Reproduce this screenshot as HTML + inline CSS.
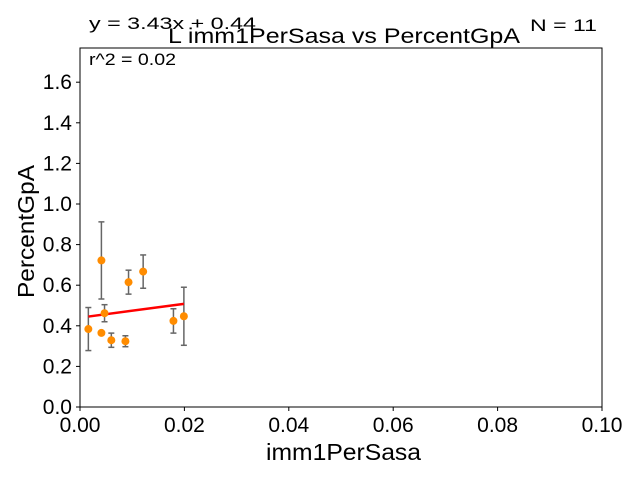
<!DOCTYPE html>
<html><head><meta charset="utf-8"><style>
body{margin:0;background:#fff}
svg{font-family:"Liberation Sans","DejaVu Sans",sans-serif}
</style></head><body>
<svg id="chart" width="640" height="480" viewBox="0 0 640 480" xmlns="http://www.w3.org/2000/svg">
<rect width="640" height="480" fill="#fff"/>
<g id="marks"></g>
<rect x="80" y="48" width="522" height="359" fill="none" stroke="#000" stroke-width="1"/>
<g id="axes"></g>
<text x="168" y="43" font-size="21" textLength="352" lengthAdjust="spacingAndGlyphs">L imm1PerSasa vs PercentGpA</text>
<text x="89" y="29" font-size="17" textLength="167" lengthAdjust="spacingAndGlyphs">y = 3.43x + 0.44</text>
<text x="89" y="65" font-size="17" textLength="87" lengthAdjust="spacingAndGlyphs">r^2 = 0.02</text>
<text x="530" y="31" font-size="17" textLength="67" lengthAdjust="spacingAndGlyphs">N = 11</text>
<text x="266" y="460" font-size="23" textLength="155" lengthAdjust="spacingAndGlyphs">imm1PerSasa</text>
<text x="34" y="298" font-size="23" textLength="133" lengthAdjust="spacingAndGlyphs" transform="rotate(-90 34 298)">PercentGpA</text>
</svg>
<script>
const xs=[0.0016,0.0041,0.0047,0.0041,0.0060,0.0087,0.0093,0.0121,0.0179,0.0199];
const ys=[0.384,0.722,0.462,0.365,0.329,0.324,0.615,0.667,0.424,0.447];
const errs=[0.106,0.19,0.042,0,0.035,0.027,0.059,0.082,0.06,0.143];
const slope=3.43, intercept=0.44;
const xTicks=[0,0.02,0.04,0.06,0.08,0.10];
const xTickLabels=["0.00","0.02","0.04","0.06","0.08","0.10"];
const yTicks=[0,0.2,0.4,0.6,0.8,1.0,1.2,1.4,1.6];
const yTickLabels=["0.0","0.2","0.4","0.6","0.8","1.0","1.2","1.4","1.6"];
const NS="http://www.w3.org/2000/svg";
const X=v=>80+v/0.1*522;
const Y=v=>407-v*203;
function mk(t,a,p){const e=document.createElementNS(NS,t);for(const k in a)e.setAttribute(k,a[k]);p.appendChild(e);return e;}
const marks=document.getElementById('marks'),axes=document.getElementById('axes');
xTicks.forEach((v,i)=>{
 const l=mk('line',{x1:X(v),x2:X(v),y1:407,y2:411,stroke:'#000'},axes);
 
 
 const t=mk('text',{x:X(v),y:432,'font-size':21,'text-anchor':'middle'},axes);t.textContent=xTickLabels[i];
 
 
});
yTicks.forEach((v,i)=>{
 const l=mk('line',{x1:76,x2:80,y1:Y(v),y2:Y(v),stroke:'#000'},axes);
 
 
 const t=mk('text',{x:72,y:Y(v)+7,'font-size':21,'text-anchor':'end'},axes);t.textContent=yTickLabels[i];
 
 
});
xs.forEach((x,i)=>{
 if(errs[i]>0){
  const g=mk('g',{stroke:'#666','stroke-width':1.5},marks);
  
  
  mk('line',{x1:X(x),x2:X(x),y1:Y(ys[i]+errs[i]),y2:Y(ys[i]-errs[i])},g);
  mk('line',{x1:X(x)-3,x2:X(x)+3,y1:Y(ys[i]+errs[i]),y2:Y(ys[i]+errs[i])},g);
  mk('line',{x1:X(x)-3,x2:X(x)+3,y1:Y(ys[i]-errs[i]),y2:Y(ys[i]-errs[i])},g);
 }
});
const xmin=Math.min(...xs),xmax=Math.max(...xs);
const fl=mk('line',{x1:X(xmin),y1:Y(slope*xmin+intercept),x2:X(xmax),y2:Y(slope*xmax+intercept),stroke:'#f00','stroke-width':2.5},marks);


xs.forEach((x,i)=>{
 const c=mk('circle',{cx:X(x),cy:Y(ys[i]),r:4,fill:'#ff8c00'},marks);
 
 
});
</script>
</body></html>
